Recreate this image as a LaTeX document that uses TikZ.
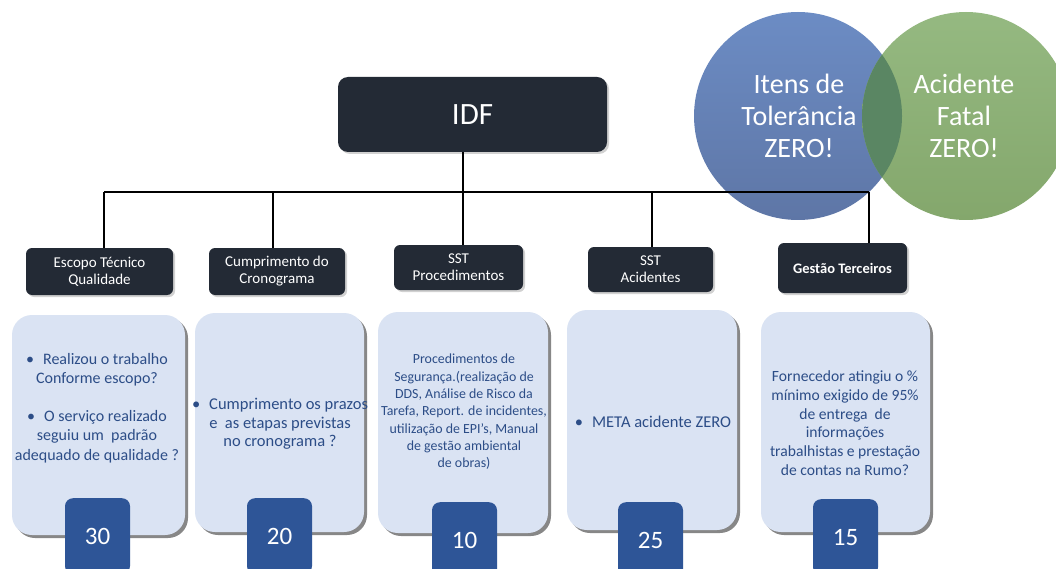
\documentclass[tikz,border=0pt]{standalone}
\usepackage{fontspec}
\setmainfont{Carlito}
\usetikzlibrary{shadows,calc}
\definecolor{hdrc}{HTML}{232A35}
\definecolor{boxc}{HTML}{DAE3F3}
\definecolor{numc}{HTML}{2E5597}
\definecolor{txtc}{HTML}{2C4D87}
\definecolor{blueT}{HTML}{6C8CC4}
\definecolor{blueB}{HTML}{5E76A6}
\definecolor{greenT}{HTML}{95B981}
\definecolor{greenB}{HTML}{84A76C}
\definecolor{ovlc}{HTML}{5A8663}
\newcommand{\bul}{•\hspace{9pt}}
\tikzset{
  hdr/.style={fill=hdrc, rounded corners=6pt, text=white, align=center,
    font=\fontsize{15}{17}\selectfont, inner sep=0pt,
    drop shadow={shadow xshift=2pt, shadow yshift=-2pt, fill=black, opacity=0.18}},
  idfbox/.style={fill=hdrc, rounded corners=10pt, text=white,
    font=\fontsize{31}{34}\selectfont, inner sep=0pt,
    drop shadow={shadow xshift=2pt, shadow yshift=-2pt, fill=black, opacity=0.18}},
  cbox/.style={fill=boxc, rounded corners=20pt, inner sep=0pt,
    drop shadow={shadow xshift=3pt, shadow yshift=-3pt, fill=black!55, opacity=0.85}},
  ctext/.style={text=txtc, align=center, inner sep=0pt},
  numbox/.style={fill=numc, rounded corners=8pt, text=white, anchor=north,
    minimum width=65pt, minimum height=76pt, inner sep=0pt,
    font=\fontsize{25}{30}\selectfont},
  ctxt/.style={text=white, align=center, font=\fontsize{28}{32}\selectfont},
  conn/.style={draw=black, line width=1.6pt}
}
\begin{document}
\begin{tikzpicture}[x=1pt,y=-1pt]
\useasboundingbox (0,0) rectangle (1056,569);
\clip (0,0) rectangle (1056,569);
\fill[white] (0,0) rectangle (1056,569);

% circles
\shade[top color=blueT, bottom color=blueB] (798,116) circle (104);
\shade[top color=greenT, bottom color=greenB] (966,116) circle (104);
\begin{scope}
  \clip (798,116) circle (104);
  \fill[ovlc] (966,116) circle (104);
\end{scope}
\node[ctxt] (c1) at (799,116) {Itens de\\Tolerância\\ZERO!};
\node[ctxt] (c2) at (964,116) {Acidente\\Fatal\\ZERO!};

% IDF
\node[idfbox, minimum width=269pt, minimum height=75pt] (idf) at (472.5,114.5) {IDF};

% headers
\node[hdr, minimum width=147pt, minimum height=47pt] (h1) at (99.5,271.5) {Escopo Técnico\\Qualidade};
\node[hdr, minimum width=136pt, minimum height=47pt] (h2) at (277,271.5) {Cumprimento do\\Cronograma};
\node[hdr, minimum width=129pt, minimum height=45pt] (h3) at (458.5,267.5) {SST\\Procedimentos};
\node[hdr, minimum width=125pt, minimum height=45pt] (h4) at (650.5,269.5) {SST\\Acidentes};
\node[hdr, minimum width=129pt, minimum height=50pt, font=\fontsize{14.5}{17}\bfseries] (h5) at (842.5,268) {Gestão Terceiros};

% connectors
\coordinate (j1) at (104,192);
\coordinate (j2) at (273,192);
\coordinate (j3) at (463,192);
\coordinate (j4) at (652,192);
\coordinate (j5) at (869,192);
\draw[conn] (j1) -- (j5);
\draw[conn] (j3 |- idf.south) -- (j3);
\foreach \i in {1,...,5} { \draw[conn] (j\i) -- (j\i |- h\i.north); }

% content boxes
\node[cbox, minimum width=173pt, minimum height=220pt] (b1) at (98.5,425) {};
\node[cbox, minimum width=169pt, minimum height=219pt] (b2) at (279.5,422.5) {};
\node[cbox, minimum width=170pt, minimum height=221pt] (b3) at (463,422.5) {};
\node[cbox, minimum width=170pt, minimum height=220pt] (b4) at (652,420) {};
\node[cbox, minimum width=169pt, minimum height=220pt] (b5) at (845.5,422) {};

\node[ctext, font=\fontsize{16}{19.5}\selectfont] (t1) at (97,408)
  {\bul Realizou o trabalho\\Conforme escopo?\\[18pt]\bul O serviço realizado\\seguiu um\ \ padrão\\adequado de qualidade ?};
\node[ctext, font=\fontsize{16.5}{18.5}\selectfont] (t2) at (280,424)
  {\bul Cumprimento os prazos\\e\ \ as etapas previstas\\no cronograma ?};
\node[ctext, font=\fontsize{13.9}{17.3}\selectfont] (t3) at (464,412)
  {Procedimentos de\\Segurança.(realização de\\DDS, Análise de Risco da\\Tarefa, Report. de incidentes,\\utilização de EPI's, Manual\\de gestão ambiental\\de obras)};
\node[ctext, font=\fontsize{16.5}{18.5}\selectfont] (t4) at (653,422)
  {\bul META acidente ZERO};
\node[ctext, font=\fontsize{15.6}{18.7}\selectfont] (t5) at (845,423)
  {Fornecedor atingiu o \%\\mínimo exigido de 95\%\\de entrega\ \ de\\informações\\trabalhistas e prestação\\de contas na Rumo?};

% number boxes
\node[numbox] (n1) at (97.5,498) {30};
\node[numbox] (n2) at (279.5,498) {20};
\node[numbox] (n3) at (464.5,502) {10};
\node[numbox] (n4) at (650.5,502) {25};
\node[numbox] (n5) at (845.5,499) {15};
\end{tikzpicture}
\end{document}
